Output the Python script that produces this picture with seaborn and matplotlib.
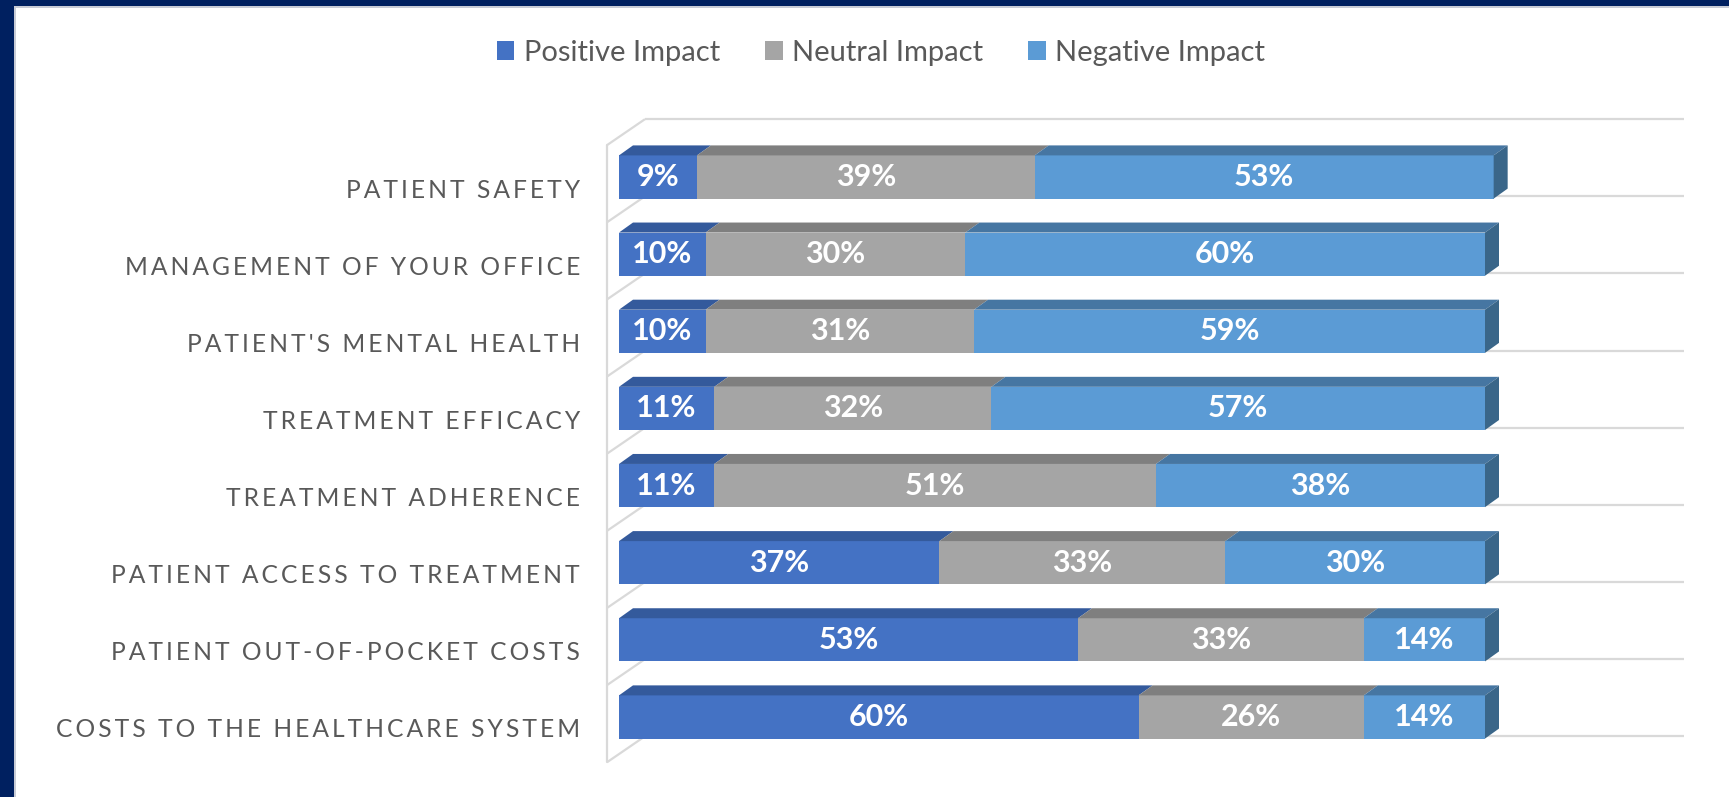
import matplotlib
matplotlib.use("Agg")
import matplotlib.pyplot as plt
from matplotlib.patches import Polygon, Rectangle, Patch
from matplotlib.transforms import ScaledTranslation, blended_transform_factory
import numpy as np
import pandas as pd
import seaborn as sns

categories = ["PATIENT SAFETY", "MANAGEMENT OF YOUR OFFICE", "PATIENT'S MENTAL HEALTH",
              "TREATMENT EFFICACY", "TREATMENT ADHERENCE", "PATIENT ACCESS TO TREATMENT",
              "PATIENT OUT-OF-POCKET COSTS", "COSTS TO THE HEALTHCARE SYSTEM"]
positive = [9, 10, 10, 11, 11, 37, 53, 60]
neutral = [39, 30, 31, 32, 51, 33, 33, 26]
negative = [53, 60, 59, 57, 38, 30, 14, 14]
series_names = ["Positive Impact", "Neutral Impact", "Negative Impact"]

front_colors = ["#4472C4", "#A5A5A5", "#5B9BD5"]
top_colors = ["#345A9C", "#7F7F7F", "#4676A2"]
side_color = "#3A6689"
grid_color = "#D9D9D9"
text_grey = "#595959"

sns.set_style("white")

W, H, DPI = 1729, 797, 100
fig = plt.figure(figsize=(W / DPI, H / DPI), dpi=DPI, facecolor="#002060")
# slide panel with a faint shadow edge
fig.add_artist(Rectangle((14 / W, 0), 1, 1 - 6 / H, transform=fig.transFigure,
                         facecolor="#C8CCD6", edgecolor="none", zorder=-11))
fig.add_artist(Rectangle((16 / W, 0), 1, 1 - 8 / H, transform=fig.transFigure,
                         facecolor="white", edgecolor="none", zorder=-10))

# layout in pixels
px_x = 8.66        # pixels per percent
pitch = 77.14      # pixels per category
x0_px = 619
first_px = 177
xmax = 124
n = len(categories)
ax = fig.add_axes([x0_px / W, 1 - (first_px - pitch / 2 + n * pitch) / H,
                   xmax * px_x / W, n * pitch / H])
ax.set_facecolor("none")

df = pd.DataFrame({"category": categories, series_names[0]: positive,
                   series_names[1]: neutral, series_names[2]: negative})
vals = df[series_names].to_numpy(dtype=float)
lefts = np.hstack([np.zeros((n, 1)), np.cumsum(vals, axis=1)[:, :-1]])

for i, name in enumerate(series_names):
    sns.barplot(data=df, x=name, y="category", order=categories, orient="h",
                color=front_colors[i], saturation=1, width=0.56, errorbar=None,
                left=lefts[:, i], linewidth=0, ax=ax, zorder=3)

ax.set_xlim(0, xmax)
ax.set_ylim(n - 0.5, -0.5)
ax.set_xlabel("")
ax.set_ylabel("")
ax.set_xticks([])
ax.set_yticks([])
sns.despine(ax=ax, left=True, bottom=True)

# 3D depth in data units
dx = 14 / px_x
dy = 10 / pitch
for i, cont in enumerate(ax.containers):
    for p in cont.patches:
        x, y, w, h = p.get_x(), p.get_y(), p.get_width(), p.get_height()
        ax.add_patch(Polygon([(x, y), (x + w, y), (x + w + dx, y - dy), (x + dx, y - dy)],
                             closed=True, facecolor=top_colors[i], edgecolor="none", zorder=3))
        if i == len(series_names) - 1:
            ax.add_patch(Polygon([(x + w, y), (x + w + dx, y - dy), (x + w + dx, y + h - dy),
                                  (x + w, y + h)], closed=True, facecolor=side_color,
                                 edgecolor="none", zorder=3))
        ax.text(x + w / 2, y + h / 2, f"{int(round(w))}%", ha="center", va="center",
                color="white", fontsize=22, fontweight="bold", family=["Lato", "DejaVu Sans"],
                zorder=5)

# wall and gridlines
wall_dx = 38 / px_x
wall_dy = 26 / pitch
wall_x = -12 / px_x
back_y = np.arange(n + 1) - 0.75
front_y = back_y + wall_dy
for yb, yf in zip(back_y, front_y):
    ax.plot([wall_x, wall_x + wall_dx], [yf, yb], color=grid_color, lw=1.6,
            clip_on=False, zorder=1, solid_capstyle="butt")
    ax.plot([wall_x + wall_dx, 1684 / px_x - x0_px / px_x], [yb, yb], color=grid_color,
            lw=1.6, clip_on=False, zorder=1, solid_capstyle="butt")
ax.plot([wall_x, wall_x], [front_y[0], front_y[-1]], color=grid_color, lw=1.6,
        clip_on=False, zorder=1)

# category labels with letter spacing
lab_tr = blended_transform_factory(ax.transAxes, ax.transData) + \
    ScaledTranslation(-39 / DPI, -13 / DPI, fig.dpi_scale_trans)
for k, cat in enumerate(categories):
    spaced = "\u200a\u200a".join(cat)
    ax.text(0, k, spaced, transform=lab_tr, ha="right", va="center", fontsize=17.7,
            color=text_grey, family=["Lato", "DejaVu Sans"])

handles = [Patch(facecolor=c, edgecolor="none") for c in front_colors]
fig.legend(handles, series_names, loc="center", bbox_to_anchor=(881 / W, 1 - 53 / H),
           ncol=3, frameon=False, handlelength=0.6, handleheight=0.6,
           handletextpad=0.32, columnspacing=1.55, labelcolor=text_grey,
           prop={"family": "Lato", "size": 21})

fig.savefig("out.png", dpi=DPI, facecolor=fig.get_facecolor())
